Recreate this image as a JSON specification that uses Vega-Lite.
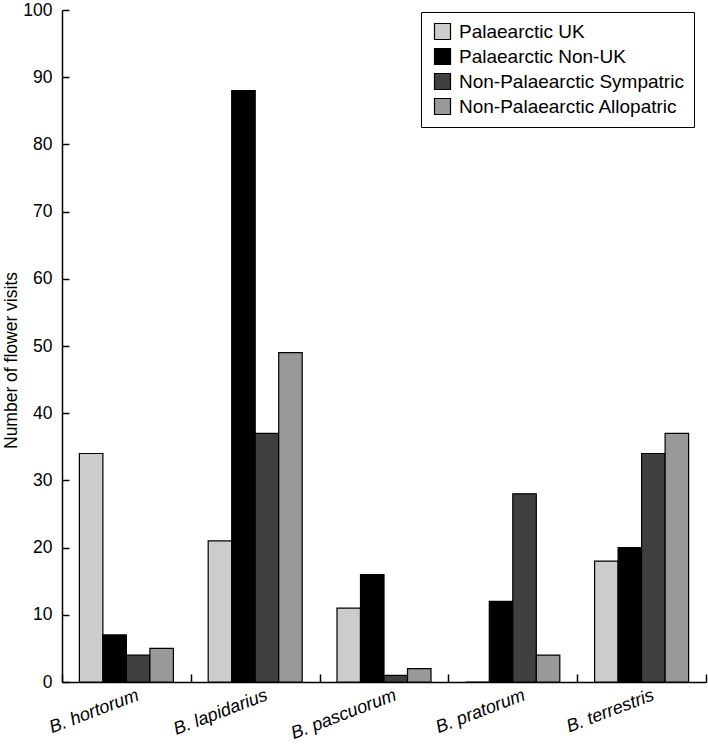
{
  "$schema": "https://vega.github.io/schema/vega-lite/v6.json",
  "autosize": "none",
  "padding": {"left": 62, "top": 10, "right": 2, "bottom": 67},
  "width": 644,
  "height": 672,
  "background": "white",
  "config": {
    "font": "Liberation Sans",
    "view": {"stroke": null},
    "axis": {"grid": false, "domainColor": "black", "tickColor": "black", "labelColor": "black", "titleColor": "black", "labelFont": "Liberation Sans", "titleFont": "Liberation Sans"}
  },
  "data": {
    "values": [
      {"species": "B. hortorum", "group": "Palaearctic UK", "visits": 34},
      {"species": "B. hortorum", "group": "Palaearctic Non-UK", "visits": 7},
      {"species": "B. hortorum", "group": "Non-Palaearctic Sympatric", "visits": 4},
      {"species": "B. hortorum", "group": "Non-Palaearctic Allopatric", "visits": 5},
      {"species": "B. lapidarius", "group": "Palaearctic UK", "visits": 21},
      {"species": "B. lapidarius", "group": "Palaearctic Non-UK", "visits": 88},
      {"species": "B. lapidarius", "group": "Non-Palaearctic Sympatric", "visits": 37},
      {"species": "B. lapidarius", "group": "Non-Palaearctic Allopatric", "visits": 49},
      {"species": "B. pascuorum", "group": "Palaearctic UK", "visits": 11},
      {"species": "B. pascuorum", "group": "Palaearctic Non-UK", "visits": 16},
      {"species": "B. pascuorum", "group": "Non-Palaearctic Sympatric", "visits": 1},
      {"species": "B. pascuorum", "group": "Non-Palaearctic Allopatric", "visits": 2},
      {"species": "B. pratorum", "group": "Palaearctic UK", "visits": 0},
      {"species": "B. pratorum", "group": "Palaearctic Non-UK", "visits": 12},
      {"species": "B. pratorum", "group": "Non-Palaearctic Sympatric", "visits": 28},
      {"species": "B. pratorum", "group": "Non-Palaearctic Allopatric", "visits": 4},
      {"species": "B. terrestris", "group": "Palaearctic UK", "visits": 18},
      {"species": "B. terrestris", "group": "Palaearctic Non-UK", "visits": 20},
      {"species": "B. terrestris", "group": "Non-Palaearctic Sympatric", "visits": 34},
      {"species": "B. terrestris", "group": "Non-Palaearctic Allopatric", "visits": 37}
    ]
  },
  "mark": {"type": "bar", "stroke": "black", "strokeWidth": 1.2},
  "encoding": {
    "x": {
      "field": "species", "type": "nominal", "sort": null,
      "scale": {"paddingInner": 0, "paddingOuter": 0},
      "axis": {
        "title": null, "labelAngle": -21, "labelAlign": "right", "labelBaseline": "top",
        "labelFontSize": 18, "labelFontStyle": "italic", "ticks": true, "tickBand": "extent",
        "tickSize": -8, "labelPadding": 12, "labelOffset": 8, "domainWidth": 1.5, "tickWidth": 1.5,
        "labelLimit": 300
      }
    },
    "xOffset": {
      "field": "group", "type": "nominal", "sort": null,
      "scale": {"paddingInner": 0, "paddingOuter": 0.74}
    },
    "y": {
      "field": "visits", "type": "quantitative",
      "scale": {"domain": [0, 100], "nice": false},
      "axis": {
        "title": "Number of flower visits", "titleFontSize": 17.5, "titleFontWeight": "normal",
        "titleY": 350,
        "labelFontSize": 17.5, "values": [0,10,20,30,40,50,60,70,80,90,100], "labelOverlap": false,
        "tickSize": -7, "labelPadding": 17, "titlePadding": 2, "domainWidth": 1.5, "tickWidth": 1.5
      }
    },
    "fill": {
      "field": "group", "type": "nominal", "sort": null,
      "scale": {
        "domain": ["Palaearctic UK", "Palaearctic Non-UK", "Non-Palaearctic Sympatric", "Non-Palaearctic Allopatric"],
        "range": ["#cccccc", "#000000", "#404040", "#999999"]
      },
      "legend": {
        "title": null, "orient": "none", "legendX": 359, "legendY": 2,
        "strokeColor": "black", "padding": 10, "labelFontSize": 19, "labelColor": "black", "labelLimit": 400,
        "symbolType": "square", "symbolSize": 256, "symbolStrokeColor": "black", "symbolStrokeWidth": 1.2,
        "rowPadding": 4, "labelOffset": 7, "symbolOffset": 2, "symbolOpacity": 1, "fillColor": "white"
      }
    }
  }
}
